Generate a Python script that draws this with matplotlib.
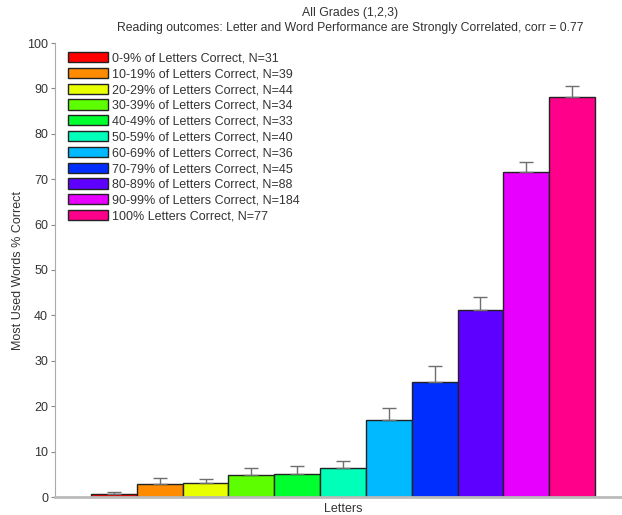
import matplotlib
matplotlib.use("Agg")
import matplotlib.pyplot as plt
import matplotlib.colors as mcolors
import numpy as np

plt.rcParams['font.family'] = ['Liberation Sans', 'DejaVu Sans']

labels = ["0-9% of Letters Correct, N=31", "10-19% of Letters Correct, N=39",
          "20-29% of Letters Correct, N=44", "30-39% of Letters Correct, N=34",
          "40-49% of Letters Correct, N=33", "50-59% of Letters Correct, N=40",
          "60-69% of Letters Correct, N=36", "70-79% of Letters Correct, N=45",
          "80-89% of Letters Correct, N=88", "90-99% of Letters Correct, N=184",
          "100% Letters Correct, N=77"]
means = [0.7, 2.9, 3.0, 4.8, 5.1, 6.4, 17.0, 25.4, 41.1, 71.5, 88.1]
errs = [0.4, 1.3, 0.9, 1.6, 1.7, 1.6, 2.6, 3.5, 3.0, 2.2, 2.4]

n = len(means)
colors = [mcolors.hsv_to_rgb((i / n, 1, 1)) for i in range(n)]

fig = plt.figure(figsize=(6.22, 5.15), dpi=100)
ax = fig.add_axes([55 / 622, 18 / 515, 576 / 622, 454 / 515])

x = np.arange(n)
for i in range(n):
    ax.bar(x[i], means[i], width=1.0, color=colors[i], edgecolor='#222222',
           linewidth=1.0, label=labels[i], zorder=2)
    ax.errorbar(x[i], means[i], yerr=[[0], [errs[i]]], fmt='none', ecolor='#6e6e6e',
                elinewidth=1.0, capsize=5, capthick=1.0, zorder=3)

ax.set_xlim(-0.5 - 36 / 45.8, n - 0.5 + 36 / 45.8)
ax.set_ylim(0, 100)
ax.set_yticks(np.arange(0, 101, 10))
ax.set_xticks([])
ax.spines['top'].set_visible(False)
ax.spines['right'].set_visible(False)
ax.spines['left'].set_color('#aaaaaa')
ax.spines['bottom'].set_color('#bbbbbb')
ax.spines['bottom'].set_linewidth(2)
ax.tick_params(axis='y', direction='out', length=3, color='#888888', labelsize=9,
               labelcolor='#333333', pad=2)
ax.set_xlabel("Letters", fontsize=9, color='#333333', labelpad=4)
ax.set_ylabel("Most Used Words % Correct", fontsize=9, color='#333333', labelpad=2)
ax.set_title("All Grades (1,2,3)\nReading outcomes: Letter and Word Performance are Strongly Correlated, corr = 0.77",
             fontsize=8.8, color='#333333', pad=9, x=(350 - 55) / 576, linespacing=1.3)

leg = ax.legend(loc='upper left', bbox_to_anchor=(0.0226, 0.980), frameon=False,
                fontsize=9, handlelength=3.2, handleheight=0.88, labelspacing=0.27,
                handletextpad=0.3, borderpad=0, borderaxespad=0)
for t in leg.get_texts():
    t.set_color('#333333')

fig.savefig("out.png", dpi=100)
